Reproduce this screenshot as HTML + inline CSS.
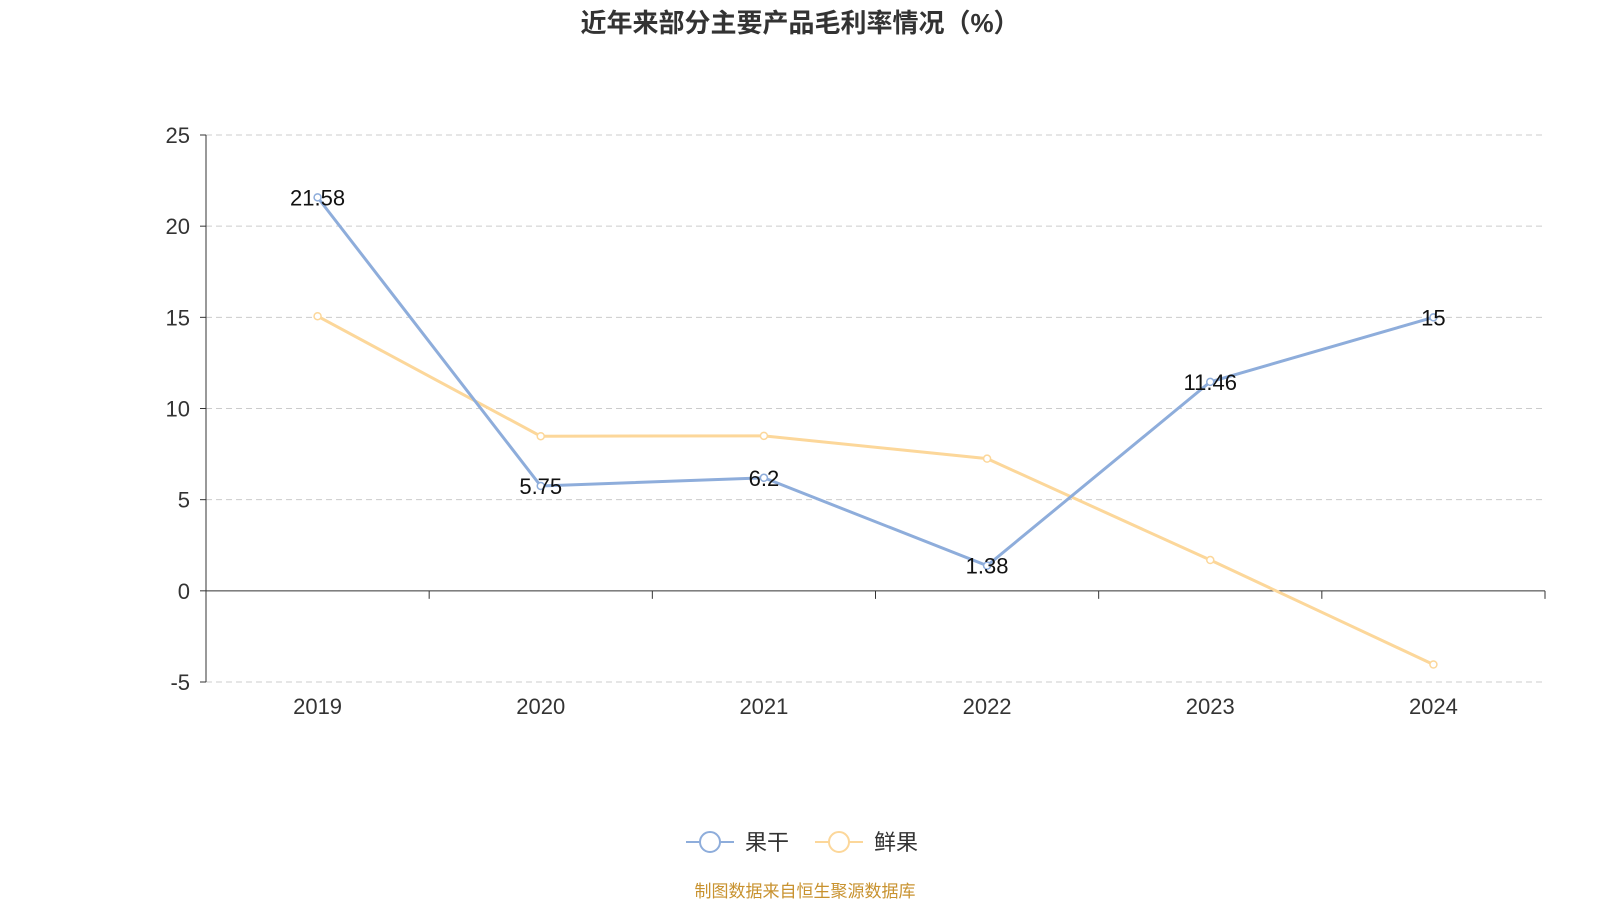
<!DOCTYPE html>
<html><head><meta charset="utf-8"><style>
body{margin:0;background:#fff;width:1600px;height:900px;overflow:hidden;font-family:"Liberation Sans","Noto Sans CJK SC",sans-serif}
</style></head><body>
<svg width="1600" height="900" xmlns="http://www.w3.org/2000/svg" font-family="Liberation Sans, Noto Sans CJK SC, sans-serif">
<text x="800" y="32" text-anchor="middle" font-size="26" font-weight="bold" fill="#333">近年来部分主要产品毛利率情况（%）</text>
<g id="grid"></g><g id="axes"></g><g id="series"></g>
<g>
<g><line x1="686" y1="842" x2="734" y2="842" stroke="#8eaddb" stroke-width="2"/><circle cx="710" cy="842" r="10" fill="#fff" stroke="#8eaddb" stroke-width="2"/><text x="745" y="850" font-size="22" fill="#333">果干</text></g>
<g><line x1="815" y1="842" x2="863" y2="842" stroke="#fcd79a" stroke-width="2"/><circle cx="839" cy="842" r="10" fill="#fff" stroke="#fcd79a" stroke-width="2"/><text x="874" y="850" font-size="22" fill="#333">鲜果</text></g>
</g>
<text x="805" y="897" text-anchor="middle" font-size="17" fill="#c8922f">制图数据来自恒生聚源数据库</text>
</svg>
<script>
const categories=["2019","2020","2021","2022","2023","2024"];
const driedValues=[21.58,5.75,6.2,1.38,11.46,15];
const freshValues=[15.06,8.48,8.5,7.25,1.69,-4.04];
const yTicks=[-5,0,5,10,15,20,25];
const NS="http://www.w3.org/2000/svg";
const x0=206,x1=1545,yTop=135,yBot=682,yMin=-5,yMax=25;
const band=(x1-x0)/categories.length;
const X=i=>x0+band*(i+0.5);
const Y=v=>yBot-(v-yMin)/(yMax-yMin)*(yBot-yTop);
function mk(tag,attrs,parent){const e=document.createElementNS(NS,tag);for(const k in attrs)e.setAttribute(k,attrs[k]);parent.appendChild(e);return e;}
const grid=document.getElementById('grid'),axes=document.getElementById('axes'),series=document.getElementById('series');
yTicks.forEach(t=>{
 if(t!==0){const l=mk('line',{x1:x0,x2:x1,y1:Y(t),y2:Y(t),stroke:'#ccc','stroke-dasharray':'6,4'},grid);
 
 }
 const tk=mk('line',{x1:x0-6,x2:x0,y1:Y(t),y2:Y(t),stroke:'#333'},axes);
 
 
 const tx=mk('text',{x:x0-16,y:Y(t)+8,'text-anchor':'end','font-size':22,fill:'#333'},axes);tx.textContent=t;
 
 
});
const ya=mk('line',{x1:x0,x2:x0,y1:yTop,y2:yBot,stroke:'#333'},axes);


const xa=mk('line',{x1:x0,x2:x1,y1:Y(0),y2:Y(0),stroke:'#333'},axes);


for(let i=0;i<=categories.length;i++){const t=mk('line',{x1:x0+band*i,x2:x0+band*i,y1:Y(0),y2:Y(0)+8,stroke:'#333'},axes);
 
 }
categories.forEach((c,i)=>{const t=mk('text',{x:X(i),y:yBot+32,'text-anchor':'middle','font-size':22,fill:'#333'},axes);t.textContent=c;
 
 });
function draw(vals,color,name,labels){
 const p=mk('polyline',{points:vals.map((v,i)=>X(i)+','+Y(v)).join(' '),fill:'none',stroke:color,'stroke-width':3},series);
 
 
 vals.forEach((v,i)=>{const c=mk('circle',{cx:X(i),cy:Y(v),r:3.5,fill:'#fff',stroke:color,'stroke-width':1.5},series);
  
  
  if(labels){const t=mk('text',{x:X(i),y:Y(v)+8,'text-anchor':'middle','font-size':22,fill:'#111'},series);t.textContent=v;
   
   }
 });
}
draw(freshValues,'#fcd79a','fresh',false);
draw(driedValues,'#8eaddb','dried',true);
</script>
</body></html>
